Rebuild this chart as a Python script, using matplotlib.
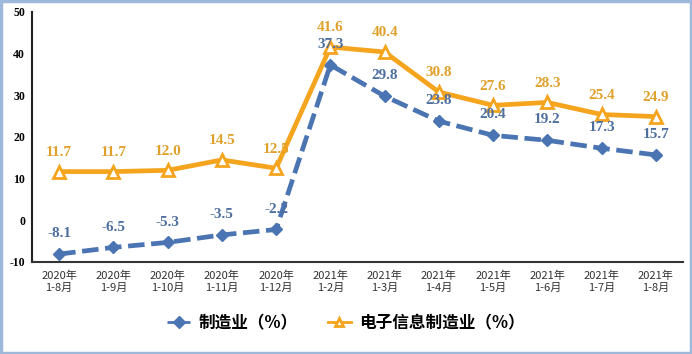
import matplotlib
matplotlib.use("Agg")
import matplotlib.pyplot as plt
from matplotlib.patches import Rectangle

plt.rcParams['font.family'] = ['Noto Sans CJK SC', 'DejaVu Sans']

categories = ["2020年\n1-8月", "2020年\n1-9月", "2020年\n1-10月", "2020年\n1-11月", "2020年\n1-12月",
              "2021年\n1-2月", "2021年\n1-3月", "2021年\n1-4月", "2021年\n1-5月", "2021年\n1-6月",
              "2021年\n1-7月", "2021年\n1-8月"]
manufacturing = [-8.1, -6.5, -5.3, -3.5, -2.2, 37.3, 29.8, 23.8, 20.4, 19.2, 17.3, 15.7]
electronics = [11.7, 11.7, 12.0, 14.5, 12.5, 41.6, 40.4, 30.8, 27.6, 28.3, 25.4, 24.9]
series_names = ["制造业（%）", "电子信息制造业（%）"]
yticks = [-10, 0, 10, 20, 30, 40, 50]

blue = "#4a74b2"
orange = "#f5a41e"
blue_txt = "#4f6f9f"
orange_txt = "#e0a12c"

fig = plt.figure(figsize=(6.92, 3.54), dpi=100)
ax = fig.add_axes([32/692, 1-262/354, (683-32)/692, (262-12)/354])

x = list(range(len(categories)))
ax.plot(x, manufacturing, color=blue, lw=3.4, ls=(0, (3.5, 1.4)), marker='D', ms=6.5,
        mfc=blue, mec=blue, label=series_names[0], zorder=3)
ax.plot(x, electronics, color=orange, lw=3.4, marker='^', ms=9, mfc='white', mec=orange,
        mew=2, label=series_names[1], zorder=4)

serif = ['Liberation Serif', 'DejaVu Serif']
for xi, v in zip(x, manufacturing):
    ax.annotate(f"{v:.1f}", (xi, v), xytext=(0, 10), textcoords='offset points',
                ha='center', va='bottom', fontsize=11, fontweight='bold', color=blue_txt,
                family=serif, zorder=5)
for xi, v in zip(x, electronics):
    ax.annotate(f"{v:.1f}", (xi, v), xytext=(0, 9), textcoords='offset points',
                ha='center', va='bottom', fontsize=11, fontweight='bold', color=orange_txt,
                family=serif, zorder=5)

ax.set_xlim(-0.5, len(categories) - 0.5)
ax.set_ylim(-10, 50)
ax.set_yticks(yticks)
ax.set_yticklabels([str(t) for t in yticks], family=serif, fontweight='bold', fontsize=8.5)
ax.set_xticks(x)
ax.set_xticklabels(categories, fontsize=8, color='#333333', linespacing=1.25)
ax.tick_params(axis='x', length=0, pad=6)
ax.tick_params(axis='y', length=0, pad=5)
for s in ['top', 'right']:
    ax.spines[s].set_visible(False)
ax.spines['left'].set_color('#222222')
ax.spines['bottom'].set_color('#333333')
ax.spines['left'].set_linewidth(1.5)
ax.spines['bottom'].set_linewidth(1.5)

leg = fig.legend(loc='center', bbox_to_anchor=(0.5, 1-323/354), ncol=2, frameon=False,
                 prop={'weight': 'bold', 'size': 12, 'family': ['Noto Sans CJK SC', 'DejaVu Sans']},
                 handlelength=1.4, columnspacing=1.8, handletextpad=0.5)
for h in leg.legend_handles:
    h.set_markersize(6)
    h.set_linewidth(2)

fig.patches.append(Rectangle((0.002, 0.003), 0.996, 0.994, transform=fig.transFigure,
                             fill=False, edgecolor='#9db8d8', lw=2.5))

fig.savefig("out.png", dpi=100)
